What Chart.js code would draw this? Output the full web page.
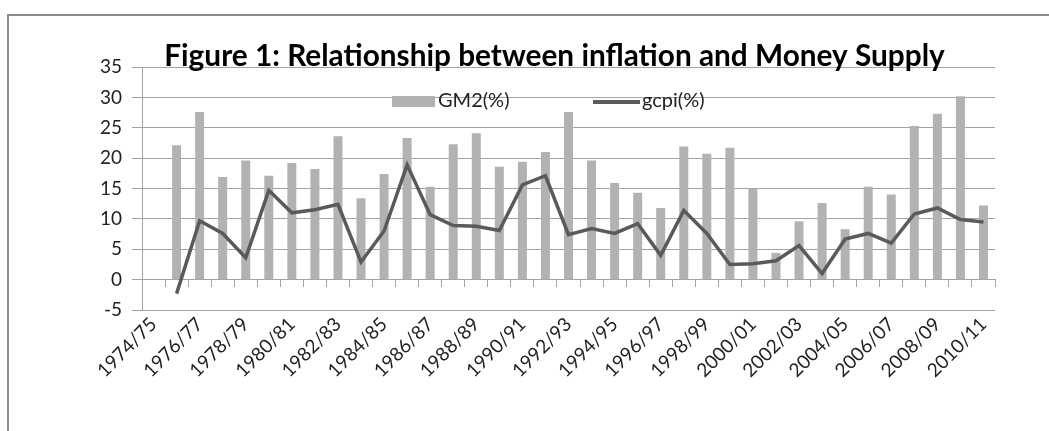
<!DOCTYPE html>
<html>
<head>
<meta charset="utf-8">
<script src="https://cdn.jsdelivr.net/npm/chart.js@4.4.0/dist/chart.umd.min.js"></script>
<style>
body { margin: 0; background: #fff; }
#wrap { position: relative; width: 1049px; height: 431px; overflow: hidden; }
#frame { position: absolute; left: 7px; top: 14px; width: 1100px; height: 500px; border: 2px solid #8c8c8c; }
#box { position: absolute; left: 0; top: 0; width: 1049px; height: 431px; }
</style>
</head>
<body>
<div id="wrap">
    <div id="frame"></div>
    <div id="box"><canvas id="graph"></canvas></div>
</div>
<script>
const years = [
    '1974/75', '1975/76', '1976/77', '1977/78', '1978/79', '1979/80', '1980/81', '1981/82',
    '1982/83', '1983/84', '1984/85', '1985/86', '1986/87', '1987/88', '1988/89', '1989/90',
    '1990/91', '1991/92', '1992/93', '1993/94', '1994/95', '1995/96', '1996/97', '1997/98',
    '1998/99', '1999/00', '2000/01', '2001/02', '2002/03', '2003/04', '2004/05', '2005/06',
    '2006/07', '2007/08', '2008/09', '2009/10', '2010/11'
];

const gm2 = [
    null, 22.1, 27.6, 16.9, 19.6, 17.1, 19.2, 18.2, 23.6, 13.4, 17.4, 23.3, 15.3,
    22.3, 24.1, 18.6, 19.4, 21.0, 27.6, 19.6, 15.9, 14.3, 11.8, 21.9, 20.7,
    21.7, 15.0, 4.4, 9.6, 12.6, 8.3, 15.3, 14.0, 25.3, 27.3, 30.2, 12.2
];

const gcpi = [
    null, -2.3, 9.7, 7.6, 3.6, 14.7, 11.0, 11.5, 12.4, 2.9, 8.0, 18.9, 10.7,
    8.9, 8.8, 8.1, 15.6, 17.1, 7.4, 8.4, 7.6, 9.2, 4.0, 11.4, 7.6,
    2.5, 2.6, 3.1, 5.6, 1.0, 6.7, 7.6, 6.0, 10.8, 11.8, 9.9, 9.5
];

const yMin = -5;
const yMax = 35;
const yStep = 5;

const titleText = 'Figure 1: Relationship between inflation and Money Supply';
const gridGrey = '#a3a3a3';
const fontName = 'Lato';

// size the title so it spans about the same width as the original
const probe = document.createElement('canvas').getContext('2d');
probe.font = 'bold 28px ' + fontName;
const titleSize = 28 * 781 / probe.measureText(titleText).width;
const titleTop = 56 - titleSize * 0.6;

// legend sits inside the plot, like the excel one
const innerLegend = {
    id: 'innerLegend',
    afterDatasetsDraw: function (chart) {
        const ctx = chart.ctx;
        const area = chart.chartArea;
        const bars = chart.data.datasets[1];
        const line = chart.data.datasets[0];
        const y = area.top + 34;

        ctx.save();
        ctx.fillStyle = bars.backgroundColor;
        ctx.fillRect(area.left + 250, y - 5, 43, 11);

        ctx.strokeStyle = line.borderColor;
        ctx.lineWidth = 4;
        ctx.beginPath();
        ctx.moveTo(area.left + 451, y + 1);
        ctx.lineTo(area.left + 498, y + 1);
        ctx.stroke();

        ctx.fillStyle = '#222';
        ctx.font = '20px ' + fontName;
        ctx.textBaseline = 'middle';
        ctx.fillText(bars.label, area.left + 296, y);
        ctx.fillText(line.label, area.left + 500, y);
        ctx.restore();
    }
};

const context = document.getElementById('graph');
new Chart(context, {
    type: 'bar',
    data: {
        labels: years,
        datasets: [
            {
                type: 'line',
                label: 'gcpi(%)',
                data: gcpi,
                borderColor: '#5a5a5a',
                borderWidth: 3.5,
                pointRadius: 0,
                tension: 0,
                order: 0
            },
            {
                type: 'bar',
                label: 'GM2(%)',
                data: gm2,
                backgroundColor: '#b2b2b2',
                barPercentage: 0.39,
                categoryPercentage: 1,
                order: 1
            }
        ]
    },
    options: {
        responsive: true,
        maintainAspectRatio: false,
        animation: false,
        layout: {
            padding: { left: 90, right: 30, top: 0, bottom: 0 }
        },
        plugins: {
            legend: { display: false },
            tooltip: { enabled: false },
            title: {
                display: true,
                text: titleText,
                color: '#000',
                font: { family: fontName, size: titleSize, weight: 'bold', lineHeight: 1.2 },
                padding: { top: titleTop, bottom: 67 - titleTop - titleSize * 1.2 }
            }
        },
        scales: {
            x: {
                position: 'bottom',
                grid: { display: false, drawTicks: false },
                border: { display: false },
                ticks: {
                    autoSkip: false,
                    maxRotation: 45,
                    minRotation: 45,
                    padding: 3,
                    color: '#222',
                    font: { family: fontName, size: 19 },
                    callback: function (value, index) {
                        return index % 2 === 0 ? years[index] : '';
                    }
                },
                afterFit: function (axis) {
                    axis.height = 121;
                }
            },
            x2: {
                type: 'category',
                position: { y: 0 },
                offset: true,
                grid: { offset: true, drawOnChartArea: false, tickLength: 7, color: gridGrey },
                border: { display: true, color: gridGrey },
                ticks: { display: false }
            },
            y: {
                min: yMin,
                max: yMax,
                ticks: {
                    stepSize: yStep,
                    padding: 10,
                    color: '#222',
                    font: { family: fontName, size: 19 }
                },
                grid: { color: gridGrey, tickLength: 10 },
                border: { display: true, color: gridGrey },
                afterFit: function (axis) {
                    axis.width = 52;
                }
            },
            // empty right axis, only keeps the plot edge at the same place
            spacer: {
                type: 'linear',
                position: 'right',
                grid: { display: false, drawTicks: false },
                border: { display: false },
                ticks: { display: false },
                afterFit: function (axis) {
                    axis.width = 24;
                }
            }
        }
    },
    plugins: [innerLegend]
});
</script>
</body>
</html>
